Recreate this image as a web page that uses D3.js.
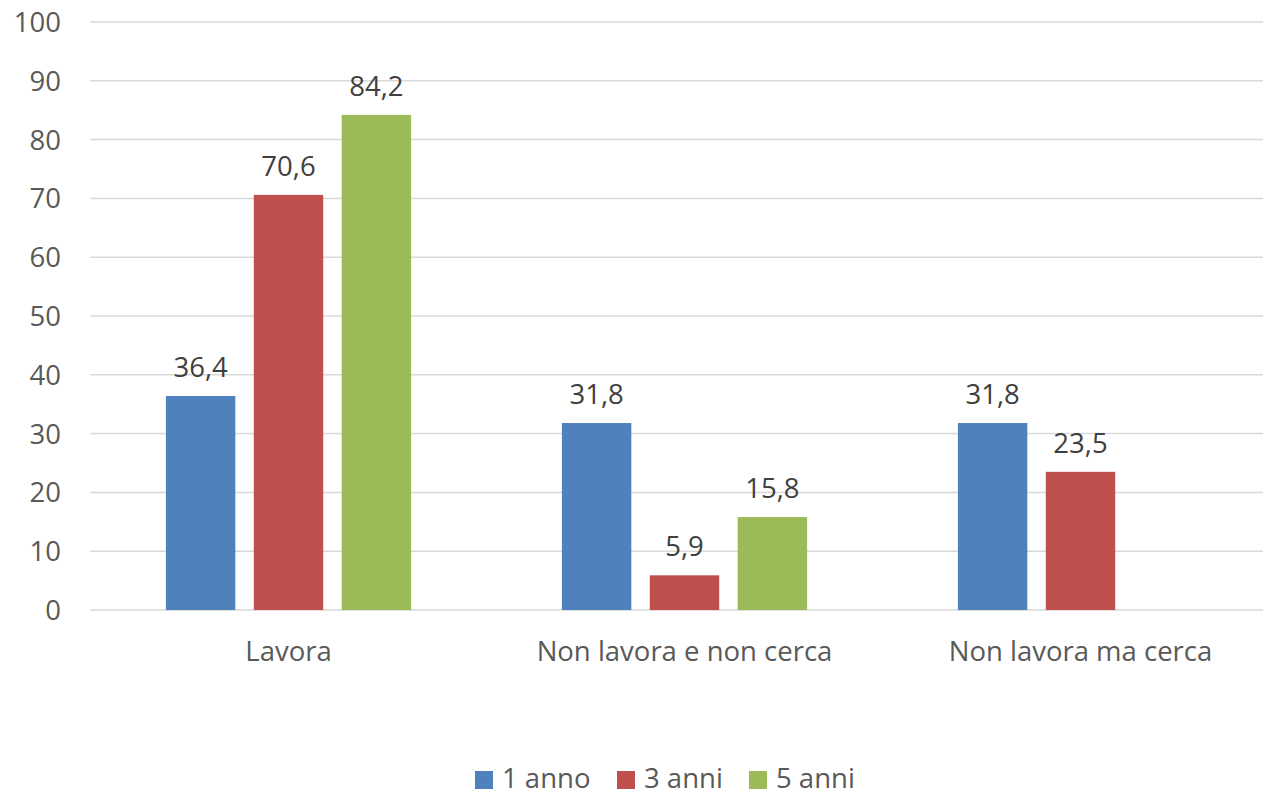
<!DOCTYPE html>
<html lang="it">
<head>
<meta charset="UTF-8">
<title>Lavora / Non lavora</title>
<script src="https://d3js.org/d3.v7.min.js"></script>
<style>
    body { margin: 0; background: #fff; }
    text { font-family: "Open Sans", sans-serif; }
</style>
</head>
<body>
<svg id="chart" width="1263" height="793"></svg>
<script>
    const categories = ["Lavora", "Non lavora e non cerca", "Non lavora ma cerca"];
    const seriesNames = ["1 anno", "3 anni", "5 anni"];
    const anno1 = [36.4, 31.8, 31.8];
    const anni3 = [70.6, 5.9, 23.5];
    const anni5 = [84.2, 15.8, null];
    const yTicks = [0, 10, 20, 30, 40, 50, 60, 70, 80, 90, 100];
    const colors = ["#4F81BD", "#C0504D", "#9BBB59"];

    const seriesValues = [anno1, anni3, anni5];
    const fs = "27.5px";

    const svg = d3.select("#chart");

    const x = d3.scaleBand().domain(categories).range([90.5, 1278.5]).padding(0);
    const xInner = d3.scaleBand().domain(seriesNames).range([0, x.bandwidth()])
        .paddingInner(0.21).paddingOuter(0.858);
    const y = d3.scaleLinear().domain([0, 100]).range([610, 22]);

    // gridlines
    svg.append("g")
        .selectAll("line")
        .data(yTicks)
        .enter()
        .append("line")
        .attr("x1", 90)
        .attr("x2", 1263)
        .attr("y1", d => y(d))
        .attr("y2", d => y(d))
        .attr("stroke", "#D9D9D9")
        .attr("stroke-width", 1.5);

    // y tick labels
    svg.append("g")
        .selectAll("text")
        .data(yTicks)
        .enter()
        .append("text")
        .attr("x", 61)
        .attr("y", d => y(d) + 10)
        .attr("text-anchor", "end")
        .attr("font-size", fs)
        .attr("fill", "#595959")
        .text(d => d);

    // bars
    const rows = [];
    categories.forEach((c, i) => {
        seriesNames.forEach((s, j) => {
            const v = seriesValues[j][i];
            if (v != null) rows.push({ cat: c, series: s, value: v, color: colors[j] });
        });
    });

    svg.append("g")
        .selectAll("rect")
        .data(rows)
        .enter()
        .append("rect")
        .attr("x", d => x(d.cat) + xInner(d.series))
        .attr("y", d => y(d.value))
        .attr("width", xInner.bandwidth())
        .attr("height", d => y(0) - y(d.value))
        .attr("fill", d => d.color);

    // data labels
    svg.append("g")
        .selectAll("text")
        .data(rows)
        .enter()
        .append("text")
        .attr("x", d => x(d.cat) + xInner(d.series) + xInner.bandwidth() / 2)
        .attr("y", d => y(d.value) - 19)
        .attr("text-anchor", "middle")
        .attr("font-size", fs)
        .attr("fill", "#404040")
        .text(d => d.value.toFixed(1).replace(".", ","));

    // category labels
    svg.append("g")
        .selectAll("text")
        .data(categories)
        .enter()
        .append("text")
        .attr("x", d => x(d) + x.bandwidth() / 2)
        .attr("y", 661)
        .attr("text-anchor", "middle")
        .attr("font-size", fs)
        .attr("fill", "#595959")
        .text(d => d);

    // legend
    const legendX = [475, 617, 749];
    const legend = svg.append("g")
        .selectAll("g")
        .data(seriesNames)
        .enter()
        .append("g")
        .attr("transform", (d, i) => `translate(${legendX[i]},771)`);

    legend.append("rect")
        .attr("width", 18)
        .attr("height", 18)
        .attr("fill", (d, i) => colors[i]);

    legend.append("text")
        .attr("x", 27)
        .attr("y", 17)
        .attr("font-size", fs)
        .attr("fill", "#595959")
        .text(d => d);
</script>
</body>
</html>
